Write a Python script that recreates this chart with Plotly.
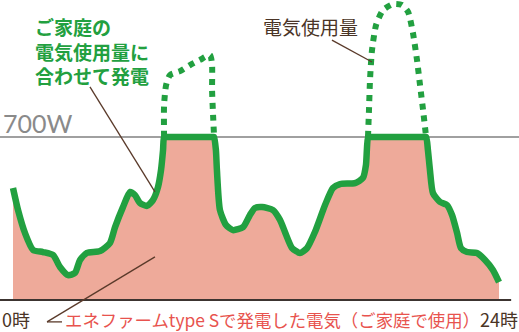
import numpy as np
import plotly.graph_objects as go

# Household electricity demand over one day (hour, watts)
hours = [
    0.0, 0.25, 0.59, 0.99, 1.48, 1.98, 2.32, 2.72, 3.06, 3.31, 3.65, 4.30,
    4.79, 5.04, 5.43, 5.78, 6.02, 6.27, 6.62, 6.91, 7.16, 7.31, 7.41, 7.46,
    7.46, 7.56, 7.75, 8.25, 8.74, 9.23, 9.73, 9.83, 9.83, 9.88, 9.93,
    10.02, 10.07, 10.22, 10.52, 10.86, 11.36, 11.70, 11.95, 12.30, 12.84,
    13.19, 13.43, 13.78, 14.17, 14.52, 14.91, 15.41, 15.80, 16.15, 16.89,
    17.28, 17.43, 17.53,
    17.58, 17.63, 17.73, 17.93, 18.27, 18.77, 19.21, 19.51, 19.75, 19.95,
    20.10, 20.25, 20.40,
    20.49, 20.59, 20.74, 21.09, 21.43, 21.68, 21.93, 22.12, 22.42, 22.91,
    23.31, 23.70, 24.0,
]
demand_w = [
    481, 386, 288, 215, 206, 193, 142, 107, 116, 172, 202, 210,
    245, 313, 399, 464, 451, 417, 404, 429, 485, 558, 644, 700,
    837, 923, 966, 983, 1009, 1031, 1052, 1009, 902, 794, 700,
    644, 558, 386, 322, 300, 313, 365, 395, 399, 386,
    343, 292, 223, 202, 223, 292, 408, 481, 498, 502,
    524, 580, 700,
    816, 945, 1074, 1181, 1245, 1271, 1267, 1237, 1147, 1031,
    923, 816, 700,
    644, 558, 459, 421, 408, 365, 288, 223, 206, 202,
    172, 129, 77,
]

capacity_w = 700  # rated output of the fuel cell

x_ticks = [0, 24]
x_tick_labels = ["0時", "24時"]

# ---- derived series -------------------------------------------------------
h = np.array(hours, dtype=float)
d = np.array(demand_w, dtype=float)
gen = np.minimum(d, capacity_w)

# drop consecutive identical points so the spline stays well defined
keep = np.ones(len(h), dtype=bool)
keep[1:] = ~((np.diff(h) == 0) & (np.diff(gen) == 0))
gen_h, gen_w = h[keep], gen[keep]

# demand above capacity, split into separate runs
over_x, over_y = [], []
inside = False
for xi, yi in zip(h, d):
    if yi >= capacity_w:
        over_x.append(xi)
        over_y.append(yi)
        inside = True
    elif inside:
        over_x.append(None)
        over_y.append(None)
        inside = False

# ---- geometry -------------------------------------------------------------
W, H = 519, 332
X_LEFT_PX, PX_PER_HOUR = 13, 20.25
BASE_PX, PX_PER_W = 300, 163 / 700
x_range = [-X_LEFT_PX / PX_PER_HOUR, (W - X_LEFT_PX) / PX_PER_HOUR]
y_range = [-(H - BASE_PX) / PX_PER_W, BASE_PX / PX_PER_W]

GREEN = "#22a040"
FILL = "#eeaa9a"
BROWN = "#4a3426"
RED = "#e8534e"
GRAY = "#a0a0a0"
JP = "Noto Sans CJK JP"

fig = go.Figure()

fig.add_trace(go.Scatter(
    x=gen_h, y=gen_w, mode="lines", fill="tozeroy", fillcolor=FILL,
    line=dict(width=0, shape="spline", smoothing=0.6), hoverinfo="skip",
))
fig.add_trace(go.Scatter(
    x=over_x, y=over_y, mode="lines", connectgaps=False,
    line=dict(color=GREEN, width=6, dash="6px,6px", shape="spline", smoothing=0.6),
    hoverinfo="skip",
))
fig.add_trace(go.Scatter(
    x=gen_h, y=gen_w, mode="lines",
    line=dict(color=GREEN, width=6.5, shape="spline", smoothing=0.6),
    hoverinfo="skip",
))

# 700 W reference line and time baseline
fig.add_shape(type="line", xref="x", yref="y", layer="below",
              x0=x_range[0], x1=x_range[1], y0=capacity_w, y1=capacity_w,
              line=dict(color=GRAY, width=2))
fig.add_shape(type="line", xref="x", yref="y", layer="above",
              x0=x_range[0], x1=24.6, y0=0, y1=0,
              line=dict(color="#3c3430", width=2))

# leader lines
lead = dict(color="#5a3a2a", width=1.3)
fig.add_shape(type="line", xref="x", yref="y", x0=3.80, y0=915, x1=7.01, y1=464, line=lead)
fig.add_shape(type="line", xref="x", yref="y", x0=15.75, y0=1116, x1=17.73, y1=1022, line=lead)
fig.add_shape(type="line", xref="x", yref="y", x0=1.68, y0=-94, x1=7.01, y1=185, line=lead)
fig.add_shape(type="line", xref="x", yref="y", x0=1.68, y0=-94, x1=2.42, y1=-94, line=lead)


def px(x):
    return x / W


def py(y):
    return 1 - y / H


notes = [
    dict(x=px(34), y=py(12), xanchor="left", yanchor="top", align="left",
         text="<b>ご家庭の<br>電気使用量に<br>合わせて発電</b>",
         font=dict(family=JP, size=19, color=GREEN)),
    dict(x=px(262), y=py(12), xanchor="left", yanchor="top",
         text="電気使用量", font=dict(family=JP, size=19, color=BROWN)),
    dict(x=px(2), y=py(123), xanchor="left", yanchor="middle",
         text="700W", font=dict(family="Lato", size=25, color="#8a8a8a")),
    dict(x=px(64), y=py(319), xanchor="left", yanchor="middle",
         text="エネファームtype Sで発電した電気（ご家庭で使用）",
         font=dict(family=JP, size=17.4, color=RED)),
]
for xv, lab, anchor in zip(x_ticks, x_tick_labels, ["left", "right"]):
    notes.append(dict(x=px(1) if anchor == "left" else px(W), y=py(319),
                      xanchor=anchor, yanchor="middle", text=lab,
                      font=dict(family=JP, size=18, color=BROWN)))
for n in notes:
    fig.add_annotation(xref="paper", yref="paper", showarrow=False,
                       borderpad=0, **n)

fig.update_layout(
    width=W, height=H, margin=dict(l=0, r=0, t=0, b=0),
    paper_bgcolor="white", plot_bgcolor="white", showlegend=False,
    xaxis=dict(range=x_range, visible=False, fixedrange=True),
    yaxis=dict(range=y_range, visible=False, fixedrange=True),
)

fig.write_html("out.html", config={"displayModeBar": False})
